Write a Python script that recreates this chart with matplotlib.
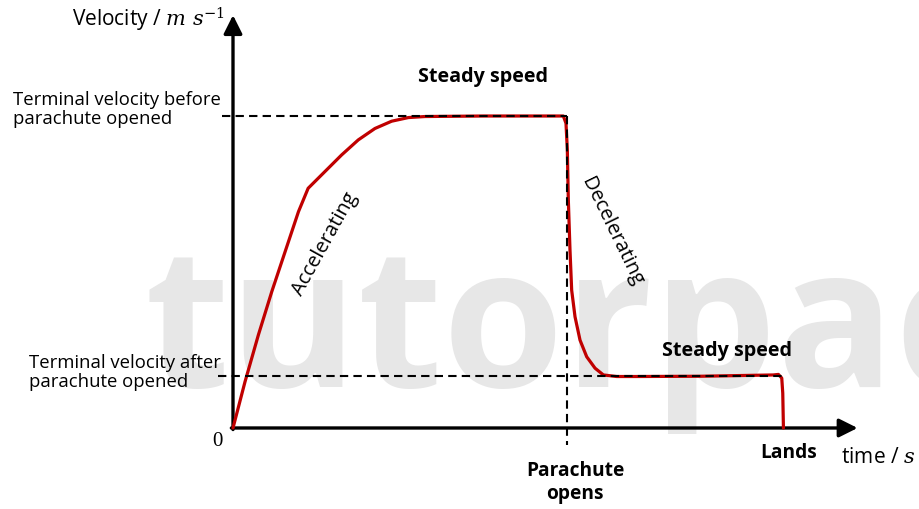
import matplotlib
matplotlib.use("Agg")
import matplotlib.pyplot as plt

plt.rcParams['font.family'] = ['Open Sans', 'DejaVu Sans']
plt.rcParams['mathtext.fontset'] = 'dejavuserif'

# velocity-time curve of a skydiver (time units, velocity units)
time = [0, 0.36, 0.76, 1.16, 1.56, 1.96, 2.25, 2.75, 3.25, 3.75, 4.25,
        4.75, 5.25, 5.75, 7.5, 9.89, 9.97, 10.01, 10.04, 10.09, 10.14,
        10.24, 10.39, 10.59, 10.84, 11.09, 11.49, 12.09, 14.0, 16.18,
        16.33, 16.43, 16.46, 16.48]
velocity = [0, 8.9, 17.9, 26.2, 33.9, 41.6, 46.1, 49.3, 52.5, 55.4, 57.6,
            59.0, 59.7, 59.9, 60, 60, 58.6, 53.5, 43.8, 34.2, 26.5,
            21.4, 16.9, 13.7, 11.5, 10.2, 9.9, 9.9, 9.95, 10.2,
            10.3, 9.6, 6.7, 0]

v_before = 60
v_after = 10
t_open = 10
t_lands = 16.47
t_axis_end = 18.7
v_axis_end = 79.4

fig = plt.figure(figsize=(9.2, 5.09), dpi=100)
ax = fig.add_axes([0, 0, 1, 1])
ax.set_xlim(-6.976, 20.569)
ax.set_ylim(-15.58, 82.31)
ax.axis('off')

# watermark
ax.text(-2.65, 7.9, 'tutorpac', fontsize=141, fontweight='bold', color='#e7e7e7',
        ha='left', va='baseline', zorder=0)

# axes with arrows
ax.annotate('', xy=(t_axis_end, 0), xytext=(-0.05, 0),
            arrowprops=dict(arrowstyle='-|>', lw=2.4, color='black', mutation_scale=28,
                            shrinkA=0, shrinkB=0), zorder=3)
ax.annotate('', xy=(0, v_axis_end), xytext=(0, -0.3),
            arrowprops=dict(arrowstyle='-|>', lw=2.4, color='black', mutation_scale=28,
                            shrinkA=0, shrinkB=0), zorder=3)

# dashed guide lines
dash = (0, (4, 2.5))
ax.plot([-0.33, t_open], [v_before, v_before], color='black', lw=1.5, linestyle=dash, zorder=4)
ax.plot([-0.45, t_lands], [v_after, v_after], color='black', lw=1.5, linestyle=dash, zorder=4)
ax.plot([t_open, t_open], [v_before, -3.3], color='black', lw=1.5, linestyle=dash, zorder=4)

# curve
ax.plot(time, velocity, color='#c00000', lw=2.3, zorder=3,
        solid_capstyle='round', solid_joinstyle='round')

# labels
ax.text(-0.25, 78.5, r'Velocity / $m\ s^{-1}$', fontsize=15, ha='right', va='center')
ax.text(-6.6, 61.3, 'Terminal velocity before\nparachute opened', fontsize=13.3,
        ha='left', va='center', linespacing=1.1)
ax.text(-6.1, 10.7, 'Terminal velocity after\nparachute opened', fontsize=13.3,
        ha='left', va='center', linespacing=1.1)
ax.text(-0.47, -2.6, '0', fontsize=15, family='Liberation Serif', ha='center', va='center')
ax.text(7.5, 67.5, 'Steady speed', fontsize=14.2, fontweight='bold', ha='center', va='center')
ax.text(14.8, 14.8, 'Steady speed', fontsize=14.2, fontweight='bold', ha='center', va='center')
ax.text(2.75, 35.3, 'Accelerating', fontsize=14.5, rotation=61, ha='center', va='center')
ax.text(11.35, 37.7, 'Decelerating', fontsize=14.5, rotation=-64, ha='center', va='center')
ax.text(10.24, -10.5, 'Parachute\nopens', fontsize=13.8, fontweight='bold',
        ha='center', va='center', linespacing=1.15)
ax.text(16.65, -4.8, 'Lands', fontsize=13.8, fontweight='bold', ha='center', va='center')
ax.text(18.2, -5.6, r'time / $s$', fontsize=15, ha='left', va='center')

fig.savefig('out.png', dpi=100)
